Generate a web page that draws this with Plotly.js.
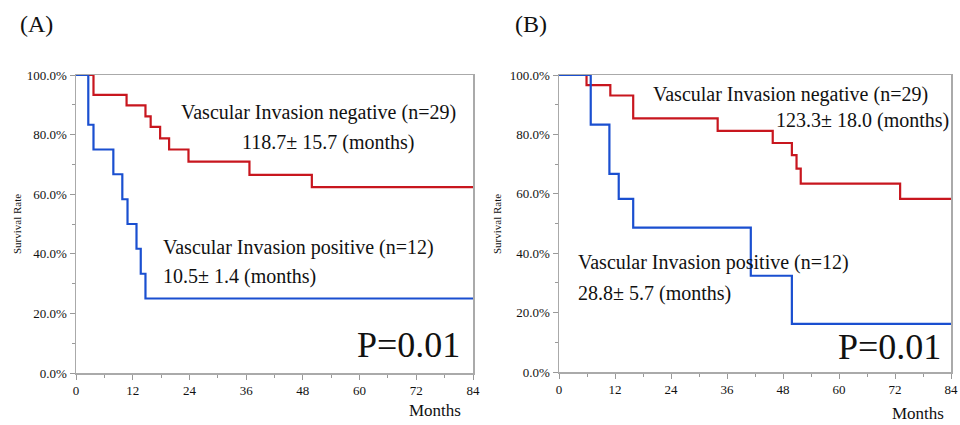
<!DOCTYPE html>
<html>
<head>
<meta charset="utf-8">
<script src="https://cdn.plot.ly/plotly-3.0.1.min.js"></script>
<style>html,body{margin:0;padding:0;background:#fff;}#chart{width:960px;height:425px;}</style>
</head>
<body>
<div id="chart"></div>
<script>
// Panel A: Kaplan-Meier curves (months, survival %)
const aNegTime = [0, 3.7, 10.7, 14.7, 15.8, 17.8, 19.7, 23.8, 36.7, 49.9, 84];
const aNegSurv = [100, 93.3, 89.8, 86.1, 82.6, 78.7, 75.0, 70.9, 66.5, 62.4, 62.4];
const aPosTime = [0, 2.6, 3.7, 7.9, 9.8, 10.9, 12.8, 13.7, 14.7, 84];
const aPosSurv = [100, 83.3, 75.0, 66.7, 58.3, 50.0, 41.7, 33.3, 25.0, 25.0];
// Panel B
const bNegTime = [0, 5.9, 11.0, 15.9, 34.0, 45.8, 49.9, 50.9, 51.8, 73.1, 84];
const bNegSurv = [100, 96.6, 93.1, 85.4, 81.2, 77.1, 73.0, 68.5, 63.4, 58.3, 58.3];
const bPosTime = [0, 6.8, 10.8, 12.8, 15.9, 41.1, 49.9, 84];
const bPosSurv = [100, 83.3, 66.7, 58.3, 48.6, 32.4, 16.2, 16.2];

const xTicks = [0, 12, 24, 36, 48, 60, 72, 84];
const xTickText = ['0', '12', '24', '36', '48', '60', '72', '84'];
const yTicks = [0, 20, 40, 60, 80, 100];
const yTickText = ['0.0%', '20.0%', '40.0%', '60.0%', '80.0%', '100.0%'];

const RED = '#c8161e', BLUE = '#1a4fd0';
const serif = '"Liberation Serif", "Times New Roman", serif';

function step(x, y, color, xa, ya) {
  return {x: x, y: y, type: 'scatter', mode: 'lines', line: {shape: 'hv', color: color, width: 2.2},
          xaxis: xa, yaxis: ya, hoverinfo: 'skip', showlegend: false, cliponaxis: false};
}

const traces = [
  step(aNegTime, aNegSurv, RED, 'x', 'y'),
  step(aPosTime, aPosSurv, BLUE, 'x', 'y'),
  step(bNegTime, bNegSurv, RED, 'x2', 'y2'),
  step(bPosTime, bPosSurv, BLUE, 'x2', 'y2')
];

const W = 960, H = 425;
const px = v => v / W, py = v => 1 - v / H;

function xAxis(d0, d1, anchor) {
  return {domain: [px(d0), px(d1)], anchor: anchor, range: [0, 84],
    tickmode: 'array', tickvals: xTicks, ticktext: xTickText,
    ticks: 'outside', ticklen: 5, tickcolor: '#999', showline: true, linecolor: '#aaa', linewidth: 1.5,
    mirror: true, showgrid: false, zeroline: false, fixedrange: true,
    minor: {dtick: 6, tick0: 0, ticks: 'outside', ticklen: 3, tickcolor: '#999', showgrid: false},
    tickfont: {family: serif, size: 13, color: '#111'}, automargin: false};
}
function yAxis(d0, d1, anchor) {
  return {domain: [py(d1), py(d0)], anchor: anchor, range: [0, 100],
    tickmode: 'array', tickvals: yTicks, ticktext: yTickText,
    ticks: 'outside', ticklen: 5, tickcolor: '#999', showline: true, linecolor: '#aaa', linewidth: 1.5,
    mirror: true, showgrid: false, zeroline: false, fixedrange: true,
    minor: {dtick: 10, tick0: 0, ticks: 'outside', ticklen: 3, tickcolor: '#999', showgrid: false},
    tickfont: {family: serif, size: 13, color: '#111'}, automargin: false};
}

function txt(text, x, y, size, xanchor, extra) {
  return Object.assign({text: text, xref: 'paper', yref: 'paper', x: px(x), y: py(y), xanchor: xanchor,
    yanchor: 'middle', showarrow: false, font: {family: serif, size: size, color: '#111'}}, extra || {});
}

const annotations = [
  txt('(A)', 18, 24, 24, 'left'),
  txt('(B)', 513, 24, 24, 'left'),
  txt('Survival Rate', 17, 224, 11, 'center', {textangle: -90}),
  txt('Survival Rate', 497, 224, 11, 'center', {textangle: -90}),
  txt('Months', 435, 410, 17, 'center'),
  txt('Months', 918, 413, 17, 'center'),
  txt('Vascular Invasion negative (n=29)', 179, 112, 20, 'left'),
  txt('118.7\u00b1 15.7 (months)', 240, 142, 20, 'left'),
  txt('Vascular Invasion positive (n=12)', 161, 247, 20, 'left'),
  txt('10.5\u00b1 1.4 (months)', 161, 276, 20, 'left'),
  txt('P=0.01', 462, 345, 36, 'right'),
  txt('Vascular Invasion negative (n=29)', 651, 94, 20, 'left'),
  txt('123.3\u00b1 18.0 (months)', 951, 121, 20, 'right'),
  txt('Vascular Invasion positive (n=12)', 576, 262, 20, 'left'),
  txt('28.8\u00b1 5.7 (months)', 576, 293, 20, 'left'),
  txt('P=0.01', 943, 347, 36, 'right')
];

const layout = {
  width: W, height: H, margin: {l: 0, r: 0, t: 0, b: 0}, paper_bgcolor: '#fff', plot_bgcolor: '#fff',
  showlegend: false, font: {family: serif},
  xaxis: xAxis(76, 473, 'y'), yaxis: yAxis(75, 373, 'x'),
  xaxis2: xAxis(559, 951, 'y2'), yaxis2: yAxis(75, 372, 'x2'),
  annotations: annotations
};

Plotly.newPlot('chart', traces, layout, {staticPlot: true, displayModeBar: false});
</script>
</body>
</html>
